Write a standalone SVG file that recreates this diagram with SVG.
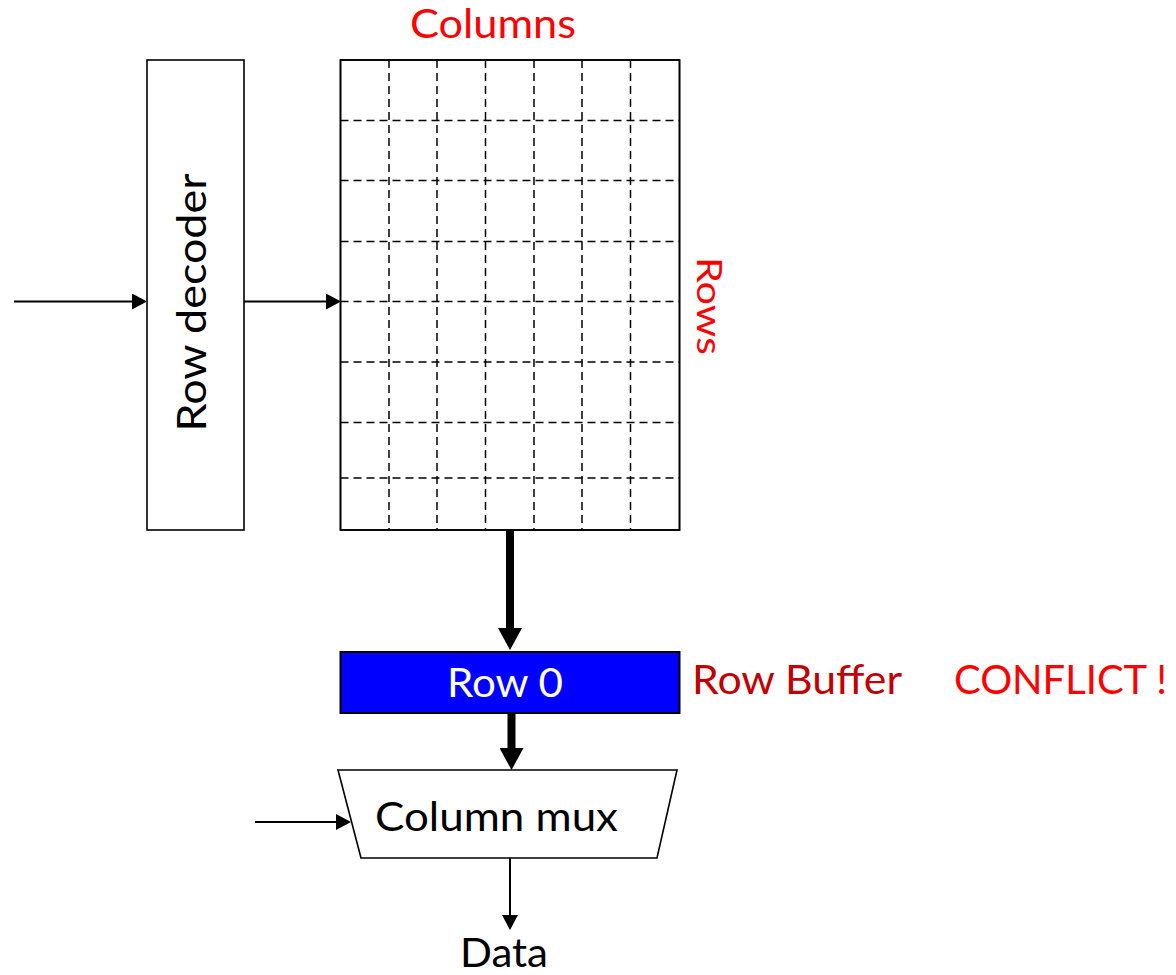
<svg xmlns="http://www.w3.org/2000/svg" width="1176" height="975" viewBox="0 0 1176 975">
  <style>
    .box { fill: #ffffff; stroke: #000000; stroke-width: 1.6; }
    .grid { stroke: #000000; stroke-width: 1.5; stroke-dasharray: 8 5; fill: none; }
    .thin { stroke: #000000; stroke-width: 2; fill: none; marker-end: url(#headThin); }
    .thick { stroke: #000000; stroke-width: 8; fill: none; marker-end: url(#headThick); }
    text { font-family: Lato, "Liberation Sans", sans-serif; font-size: 40px; }
    .black { fill: #000000; }
    .red { fill: #ff0000; }
    .darkred { fill: #c00000; }
    .white { fill: #ffffff; }
  </style>
  <defs>
    <marker id="headThin" viewBox="0 0 15 16" refX="9" refY="8" markerWidth="15" markerHeight="16" markerUnits="userSpaceOnUse" orient="auto">
      <path d="M0,0 L15,8 L0,16 z" fill="#000000"/>
    </marker>
    <marker id="headThick" viewBox="0 0 22 24" refX="10" refY="12" markerWidth="22" markerHeight="24" markerUnits="userSpaceOnUse" orient="auto">
      <path d="M0,0 L22,12 L0,24 z" fill="#000000"/>
    </marker>
  </defs>

  <g id="row-decoder">
    <rect class="box" x="147" y="60" width="97" height="470"/>
    <text class="black" transform="translate(206,431.5) rotate(-90)" textLength="258" lengthAdjust="spacingAndGlyphs">Row decoder</text>
  </g>

  <g id="cell-array">
    <rect class="box" x="340.5" y="60" width="339" height="470"/>
    <g class="grid">
      <line x1="389" y1="60" x2="389" y2="530"/>
      <line x1="437" y1="60" x2="437" y2="530"/>
      <line x1="485.5" y1="60" x2="485.5" y2="530"/>
      <line x1="534" y1="60" x2="534" y2="530"/>
      <line x1="582" y1="60" x2="582" y2="530"/>
      <line x1="630.5" y1="60" x2="630.5" y2="530"/>
      <line x1="340.5" y1="120.5" x2="679.5" y2="120.5"/>
      <line x1="340.5" y1="180.5" x2="679.5" y2="180.5"/>
      <line x1="340.5" y1="241.5" x2="679.5" y2="241.5"/>
      <line x1="340.5" y1="301.5" x2="679.5" y2="301.5"/>
      <line x1="340.5" y1="362" x2="679.5" y2="362"/>
      <line x1="340.5" y1="422.5" x2="679.5" y2="422.5"/>
      <line x1="340.5" y1="478" x2="679.5" y2="478"/>
    </g>
    <rect x="340.5" y="60" width="339" height="470" fill="none" stroke="#000000" stroke-width="1.6"/>
  </g>

  <g id="labels">
    <text class="red" x="410" y="38" textLength="166" lengthAdjust="spacingAndGlyphs">Columns</text>
    <text class="red" style="font-size:35px" transform="translate(697,257) rotate(90)" textLength="98" lengthAdjust="spacingAndGlyphs">Rows</text>
    <text class="darkred" x="692" y="694" textLength="210" lengthAdjust="spacingAndGlyphs">Row Buffer</text>
    <text class="red" x="954" y="694" textLength="213" lengthAdjust="spacingAndGlyphs">CONFLICT !</text>
  </g>

  <g id="row-buffer">
    <rect x="340.5" y="652" width="339" height="61" fill="#0000ff" stroke="#000000" stroke-width="2"/>
    <text class="white" x="447" y="697" textLength="116" lengthAdjust="spacingAndGlyphs">Row 0</text>
  </g>

  <g id="column-mux">
    <polygon class="box" points="338,770 677,770 657,858 361,858"/>
    <text class="black" x="375" y="831" textLength="243" lengthAdjust="spacingAndGlyphs">Column mux</text>
  </g>

  <g id="data">
    <text class="black" x="460" y="967" textLength="88" lengthAdjust="spacingAndGlyphs">Data</text>
  </g>

  <g id="connectors">
    <line class="thin" x1="14" y1="301.5" x2="141" y2="301.5"/>
    <line class="thin" x1="244" y1="301.5" x2="335" y2="301.5"/>
    <line class="thick" x1="510" y1="530" x2="510" y2="638"/>
    <line class="thick" x1="511.5" y1="713" x2="511.5" y2="758"/>
    <line class="thin" x1="255" y1="822" x2="345" y2="822"/>
    <line class="thin" x1="510" y1="858" x2="510" y2="924"/>
  </g>
</svg>
